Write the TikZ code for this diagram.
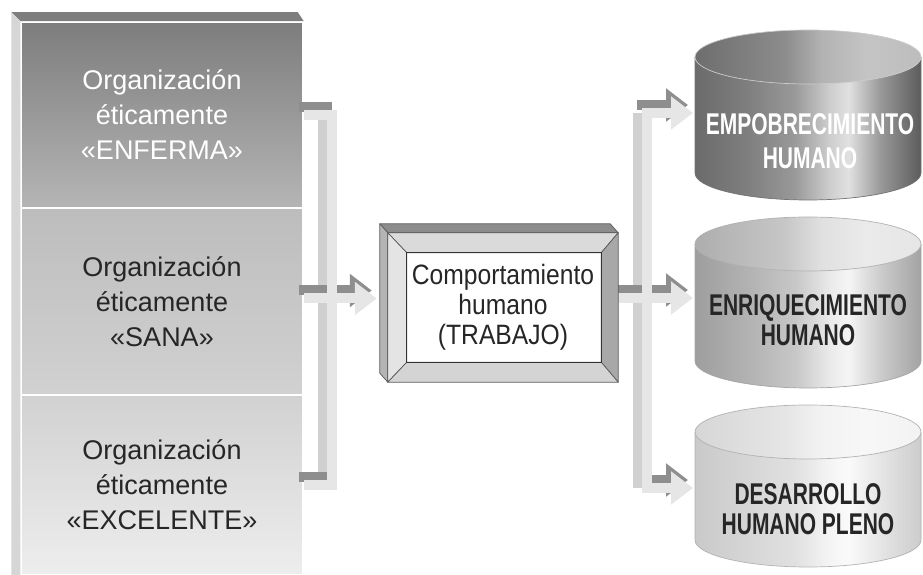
\documentclass[tikz,border=0pt]{standalone}
\usepackage{fontspec}
\setmainfont{Liberation Sans}
\newfontfamily\boxfam[FakeStretch=0.88]{Liberation Sans}
\newfontfamily\cylfam[FakeStretch=0.7]{Liberation Sans}
\usetikzlibrary{arrows.meta,calc}
\definecolor{ethTop}{HTML}{7E7E7E}
\definecolor{ethSide}{HTML}{D6D6D6}
\definecolor{ethPipe}{HTML}{E6E6E6}
\definecolor{ethPipeTop}{HTML}{8E8E8E}
\definecolor{ethPipeSide}{HTML}{D0D0D0}
\definecolor{ethText}{HTML}{262626}
\definecolor{ethLine}{HTML}{5A5A5A}
\definecolor{ethBevelTop}{HTML}{DADADA}
\definecolor{ethBevelLeft}{HTML}{E4E4E4}
\definecolor{ethBevelRight}{HTML}{A8A8A8}
\definecolor{ethBevelBottom}{HTML}{D4D4D4}
\definecolor{ethExtTop}{HTML}{8C8C8C}
\definecolor{ethExtSide}{HTML}{B4B4B4}
% metallic cylinder shadings (path box = 25bp..75bp)
\pgfdeclarehorizontalshading{cylbodyA}{100bp}{color(0bp)=(black!58); color(25bp)=(black!58);
  color(37bp)=(black!50); color(47bp)=(black!40); color(55bp)=(black!19); color(59bp)=(black!12);
  color(66bp)=(black!40); color(75bp)=(black!64); color(100bp)=(black!64)}
\pgfdeclarehorizontalshading{cyltopA}{100bp}{color(0bp)=(black!57); color(25bp)=(black!57);
  color(45bp)=(black!45); color(53bp)=(black!30); color(63bp)=(black!23); color(75bp)=(black!26);
  color(100bp)=(black!26)}
\pgfdeclarehorizontalshading{cylbodyB}{100bp}{color(0bp)=(black!38); color(25bp)=(black!38);
  color(37bp)=(black!30); color(47bp)=(black!22); color(55bp)=(black!8); color(59bp)=(black!4);
  color(66bp)=(black!20); color(75bp)=(black!36); color(100bp)=(black!36)}
\pgfdeclarehorizontalshading{cyltopB}{100bp}{color(0bp)=(black!32); color(25bp)=(black!32);
  color(45bp)=(black!22); color(53bp)=(black!12); color(63bp)=(black!8); color(75bp)=(black!10);
  color(100bp)=(black!10)}
\pgfdeclarehorizontalshading{cylbodyC}{100bp}{color(0bp)=(black!21); color(25bp)=(black!21);
  color(37bp)=(black!16); color(47bp)=(black!12); color(55bp)=(black!4); color(59bp)=(black!2);
  color(66bp)=(black!10); color(75bp)=(black!20); color(100bp)=(black!20)}
\pgfdeclarehorizontalshading{cyltopC}{100bp}{color(0bp)=(black!16); color(25bp)=(black!16);
  color(45bp)=(black!10); color(53bp)=(black!5); color(63bp)=(black!3); color(75bp)=(black!5);
  color(100bp)=(black!5)}
\tikzset{
  ethpanel/.style={rectangle,draw=white,line width=1.5pt,minimum width=282pt,
                   minimum height=186pt,inner sep=0pt,align=center,
                   font=\fontsize{27}{35}\selectfont},
  ethbox/.style={rectangle,fill=white,minimum width=230pt,minimum height=149pt,
                 inner sep=0pt,align=center,text=ethText,
                 font=\boxfam\fontsize{28}{30}\selectfont},
  ethbevel/.style={draw=ethLine,line width=0.7pt,line join=round},
  ethpipe/.style={draw=ethPipe,line width=10pt},
  ethpipetop/.style={draw=ethPipeTop,line width=10pt,
                     transform canvas={shift={(-5pt,8pt)}}},
  ethpipeside/.style={draw=ethPipeSide,line width=10pt,
                      transform canvas={shift={(-9pt,0pt)}}},
  ethcyl/.style={draw=#1,line width=0.7pt},
  ethcyllabel/.style={align=center,inner sep=0pt,
                      font=\cylfam\bfseries\fontsize{30}{#1}\selectfont}
}

\begin{document}
\begin{tikzpicture}[x=1pt,y=1pt,>={Triangle[length=22pt,width=32pt]}]
  \useasboundingbox (0,0) rectangle (923,575);

  % organisations and work
  \node[ethpanel,top color=black!51,bottom color=black!29,text=white]
    (enf) at (162,460) {Organización\\éticamente\\«ENFERMA»};
  \node[ethpanel,minimum height=187pt,top color=black!26,bottom color=black!18,
        text=ethText] (sana) at (162,273.5) {Organización\\éticamente\\«SANA»};
  \node[ethpanel,minimum height=180pt,top color=black!18,bottom color=black!7,
        text=ethText] (exc) at (162,90) {Organización\\éticamente\\«EXCELENTE»};
  \node[ethbox] (comp) at (503,267.5) {Comportamiento\\humano\\(TRABAJO)};

  \coordinate (lbar) at (332,0);
  \coordinate (rbar) at (647,0);
  \coordinate (emp) at (695,462);
  \coordinate (enr) at (695,277);
  \coordinate (des) at (695,87);

  % left bracket
  \draw[ethpipeside] (enf.east -| lbar) -- (exc.east -| lbar);
  \draw[ethpipetop] (enf.east) -- ($(enf.east -| lbar)+(5,0)$);
  \draw[ethpipetop] (exc.east) -- (exc.east -| lbar);
  \draw[ethpipetop,->,shorten >=11pt] ([yshift=3pt]sana.east)
    -- ([yshift=3pt]sana.east -| comp.west);
  \draw[ethpipe] (enf.east) -- (enf.east -| lbar) -- (exc.east -| lbar)
    -- (exc.east);
  \draw[ethpipe,->,shorten >=11pt] ([yshift=3pt]sana.east)
    -- ([yshift=3pt]sana.east -| comp.west);

  % right bracket
  \draw[ethpipeside] (emp -| rbar) -- (des -| rbar);
  \draw[ethpipetop,->,shorten >=2pt] ($(emp -| rbar)+(-5,0)$) -- (emp);
  \draw[ethpipetop,->,shorten >=2pt] ([yshift=9.5pt]comp.east) -- (enr);
  \draw[ethpipetop,->,shorten >=2pt] ($(des -| rbar)+(5,0)$) -- (des);
  \draw[ethpipe,<->,shorten <=2pt,shorten >=2pt] (des) -- (des -| rbar)
    -- (emp -| rbar) -- (emp);
  \draw[ethpipe,->,shorten >=2pt] ([yshift=9.5pt]comp.east) -- (enr);

  % 3d edges of the left column
  \fill[ethTop] ($(enf.north west)+(-9,9)$) -- ($(enf.north east)+(-6,9)$)
    -- (enf.north east) -- (enf.north west) -- cycle;
  \fill[ethSide] ($(enf.north west)+(-9,9)$) -- (enf.north west)
    -- (exc.south west) -- ($(exc.south west)+(-9,0)$) -- cycle;

  % frame of the work box
  \coordinate (iNW) at ($(comp.north west)+(19,-20)$);
  \coordinate (iNE) at ($(comp.north east)+(-17,-20)$);
  \coordinate (iSE) at ($(comp.south east)+(-17,20)$);
  \coordinate (iSW) at ($(comp.south west)+(19,20)$);
  \filldraw[ethbevel,fill=ethExtTop] (comp.north west) -- ++(-8,9)
    -- ($(comp.north east)+(-8,9)$) -- (comp.north east) -- cycle;
  \filldraw[ethbevel,fill=ethExtSide] (comp.north west) -- ++(-8,9)
    -- ($(comp.south west)+(-8,9)$) -- (comp.south west) -- cycle;
  \filldraw[ethbevel,fill=ethBevelTop] (comp.north west) -- (comp.north east)
    -- (iNE) -- (iNW) -- cycle;
  \filldraw[ethbevel,fill=ethBevelLeft] (comp.north west) -- (iNW) -- (iSW)
    -- (comp.south west) -- cycle;
  \filldraw[ethbevel,fill=ethBevelRight] (comp.north east) -- (comp.south east)
    -- (iSE) -- (iNE) -- cycle;
  \filldraw[ethbevel,fill=ethBevelBottom] (comp.south west) -- (iSW) -- (iSE)
    -- (comp.south east) -- cycle;
  \draw[ethbevel,draw=black!80,line width=1pt] (iNW) rectangle (iSE);

  % cylinders
  \shadedraw[shading=cylbodyA,ethcyl=black!55] (695,518) -- (695,402)
    arc[start angle=180,end angle=360,x radius=113,y radius=27] -- (921,518);
  \shadedraw[shading=cyltopA,ethcyl=black!20] (808,518)
    ellipse[x radius=113,y radius=27];
  \shadedraw[shading=cylbodyB,ethcyl=black!35] (695,331) -- (695,214)
    arc[start angle=180,end angle=360,x radius=113,y radius=27] -- (921,331);
  \shadedraw[shading=cyltopB,ethcyl=black!30] (808,331)
    ellipse[x radius=113,y radius=27];
  \shadedraw[shading=cylbodyC,ethcyl=black!30] (695,143) -- (695,35)
    arc[start angle=180,end angle=360,x radius=113,y radius=27] -- (921,143);
  \shadedraw[shading=cyltopC,ethcyl=black!30] (808,143)
    ellipse[x radius=113,y radius=27];

  \node[ethcyllabel=34,text=white] (empl) at (810,434)
    {EMPOBRECIMIENTO\\HUMANO};
  \node[ethcyllabel=30,text=ethText] (enrl) at (808,255)
    {ENRIQUECIMIENTO\\HUMANO};
  \node[ethcyllabel=30,text=ethText] (desl) at (808,66)
    {DESARROLLO\\HUMANO PLENO};
\end{tikzpicture}
\end{document}
